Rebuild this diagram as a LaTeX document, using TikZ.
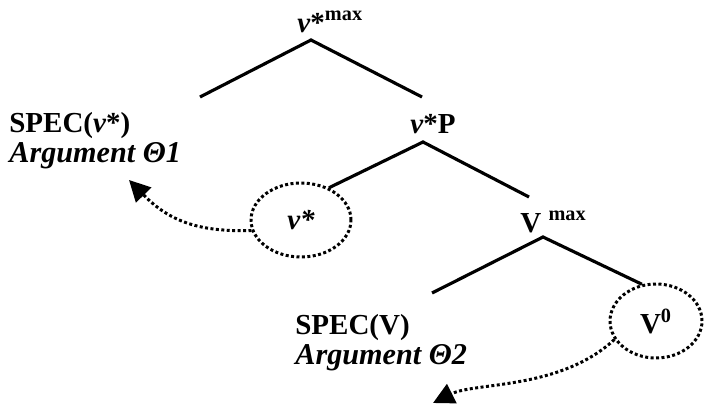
\documentclass[tikz,border=0pt]{standalone}
\usepackage{fontspec}
\setmainfont{Liberation Serif}
\usetikzlibrary{shapes.geometric,arrows.meta}

\tikzset{
  lbl/.style={inner sep=0pt, anchor=base west, font=\fontsize{16.5}{20}\selectfont\bfseries},
  arglbl/.style={lbl, font=\fontsize{17.2}{20}\selectfont\bfseries\itshape},
  branch/.style={line width=1.8pt},
  trace/.style={ellipse, draw, line width=1.7pt, dash pattern=on 1.7pt off 1.4pt,
    inner sep=0pt, font=\fontsize{16.5}{20}\selectfont\bfseries},
  move/.style={line width=1.7pt, dash pattern=on 1.7pt off 1.4pt,
    -{Triangle[length=12pt,width=12pt]}}
}

\begin{document}
\begin{tikzpicture}[x=0.02cm,y=-0.02cm]
\useasboundingbox (0,0) rectangle (709,409);
% v*max
\node[lbl] (vmax) at (297,32) {\textit{v}*\textsuperscript{max}};
\coordinate (vmaxtop) at (311,40);
\coordinate (specvend) at (200,97);
\coordinate (vPend) at (422,97);
\draw[branch] (specvend) -- (vmaxtop) -- (vPend);
\node[lbl] (specv) at (9,132) {SPEC(\textit{v}*)};
\node[arglbl] (arg1) at (9,162) {Argument Θ1};
% v*P
\node[lbl] (vP) at (410,133) {\textit{v}*P};
\coordinate (vPtop) at (423,142);
\node[trace] (vstar) at (301,220) [minimum width=2cm, minimum height=1.48cm] {\textit{v*}};
\coordinate (Vmaxend) at (529,197);
\draw[branch] (vstar.49) -- (vPtop) -- (Vmaxend);
% Vmax
\node[lbl] (Vmax) at (520,232) {V \textsuperscript{max}};
\coordinate (Vmaxtop) at (543,237);
\coordinate (specVend) at (432,293);
\node[trace] (vzero) at (656,321) [minimum width=1.84cm, minimum height=1.48cm] {V\textsuperscript{0}};
\draw[branch] (specVend) -- (Vmaxtop) -- (vzero.111);
\node[lbl] (specV) at (295,334) {SPEC(V)};
\node[arglbl] (arg2) at (295,364) {Argument Θ2};
% movement
\coordinate (tip1) at (129,180);
\coordinate (tip2) at (433,403);
\draw[move] (vstar.192) .. controls (200,232) and (170,222) .. (tip1);
\draw[move] (vzero.204) .. controls (560,390) and (475,382) .. (tip2);
\end{tikzpicture}
\end{document}
